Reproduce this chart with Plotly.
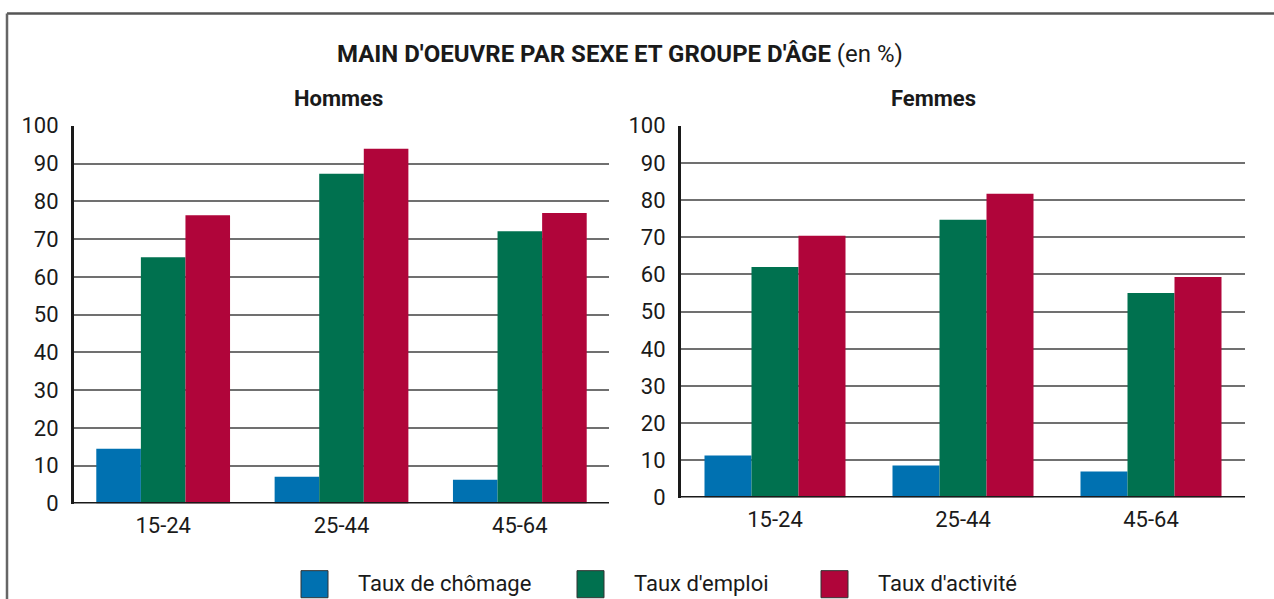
import plotly.graph_objects as go

age_groups = ["15-24", "25-44", "45-64"]
series_names = ["Taux de chômage", "Taux d'emploi", "Taux d'activité"]
series_colors = ["#0071b1", "#00714f", "#b0053a"]

hommes_chomage = [14.5, 7.1, 6.3]
hommes_emploi = [65.2, 87.3, 72.1]
hommes_activite = [76.3, 93.9, 76.9]

femmes_chomage = [11.3, 8.6, 7.0]
femmes_emploi = [62.0, 74.7, 55.0]
femmes_activite = [70.4, 81.7, 59.3]

y_ticks = list(range(0, 101, 10))

FONT = "Roboto, DejaVu Sans Condensed, sans-serif"
TXT = "#1a1a1a"
W, H = 1274, 625
# vertical placement correction observed for the rendering pipeline
V_OFF, V_SCALE = 10.5, 0.958


def px_x(x):
    return x / W


def px_y(y):
    f = (y - V_OFF) / V_SCALE
    return (H - f) / H


fig = go.Figure()

hommes = [hommes_chomage, hommes_emploi, hommes_activite]
femmes = [femmes_chomage, femmes_emploi, femmes_activite]

for name, color, vals in zip(series_names, series_colors, hommes):
    fig.add_trace(go.Bar(x=age_groups, y=vals, name=name, marker=dict(color=color, line=dict(width=0)),
                         xaxis="x", yaxis="y", showlegend=False))
for name, color, vals in zip(series_names, series_colors, femmes):
    fig.add_trace(go.Bar(x=age_groups, y=vals, name=name, marker=dict(color=color, line=dict(width=0)),
                         xaxis="x2", yaxis="y2", showlegend=False))

axis_common = dict(showgrid=False, showline=False, zeroline=False, ticks="",
                   ticklabelstandoff=6,
                   tickfont=dict(family=FONT, size=22, color=TXT), fixedrange=True)
yaxis_common = dict(range=[0, 100], tickvals=y_ticks, showgrid=True, gridcolor="#707070",
                    gridwidth=1.5, zeroline=False, showline=True, linecolor=TXT,
                    linewidth=3, ticks="", ticklabelstandoff=8,
                    tickfont=dict(family=FONT, size=22, color=TXT), fixedrange=True)

legend_boxes = [(301, 328), (577, 604), (821, 848)]
legend_text_x = [356, 632, 876]
shapes = [
    dict(type="line", xref="paper", yref="paper", x0=px_x(7), x1=1, y0=px_y(12), y1=px_y(12),
         line=dict(color="#555555", width=2.5)),
    dict(type="line", xref="paper", yref="paper", x0=px_x(7), x1=px_x(7), y0=0, y1=px_y(12),
         line=dict(color="#666666", width=2.5)),
    dict(type="line", xref="x domain", yref="y", x0=0, x1=1, y0=0, y1=0,
         line=dict(color=TXT, width=3)),
    dict(type="line", xref="x2 domain", yref="y2", x0=0, x1=1, y0=0, y1=0,
         line=dict(color=TXT, width=3)),
]
annotations = [
    dict(text="<b>MAIN D'OEUVRE PAR SEXE ET GROUPE D'ÂGE</b> (en %)", xref="paper", yref="paper",
         x=px_x(620), y=px_y(52), xanchor="center", yanchor="middle", showarrow=False,
         font=dict(family=FONT, size=24, color=TXT)),
    dict(text="<b>Hommes</b>", xref="paper", yref="paper", x=px_x(338), y=px_y(97),
         xanchor="center", yanchor="middle", showarrow=False,
         font=dict(family=FONT, size=22, color=TXT)),
    dict(text="<b>Femmes</b>", xref="paper", yref="paper", x=px_x(933), y=px_y(97),
         xanchor="center", yanchor="middle", showarrow=False,
         font=dict(family=FONT, size=22, color=TXT)),
]
for (x0, x1), tx, name, color in zip(legend_boxes, legend_text_x, series_names, series_colors):
    shapes.append(dict(type="rect", xref="paper", yref="paper", x0=px_x(x0), x1=px_x(x1),
                       y0=px_y(595), y1=px_y(568), fillcolor=color,
                       line=dict(color="#333333", width=1)))
    annotations.append(dict(text=name, xref="paper", yref="paper", x=px_x(tx), y=px_y(581),
                            xanchor="left", yanchor="middle", showarrow=False,
                            font=dict(family=FONT, size=22, color=TXT)))

fig.update_layout(
    width=W, height=H,
    margin=dict(l=0, r=0, t=0, b=0),
    paper_bgcolor="white", plot_bgcolor="white",
    barmode="group", bargap=0.25, bargroupgap=0,
    xaxis=dict(domain=[px_x(74), px_x(609)], anchor="y", **axis_common),
    yaxis=dict(domain=[px_y(501), px_y(124)], anchor="x", **yaxis_common),
    xaxis2=dict(domain=[px_x(681), px_x(1245)], anchor="y2", **axis_common),
    yaxis2=dict(domain=[px_y(495), px_y(124)], anchor="x2", **yaxis_common),
    showlegend=False,
    shapes=shapes,
    annotations=annotations,
)

fig.write_html("out.html", config={"displayModeBar": False},
               post_script="document.body.style.margin='0';document.body.style.overflow='hidden';")
